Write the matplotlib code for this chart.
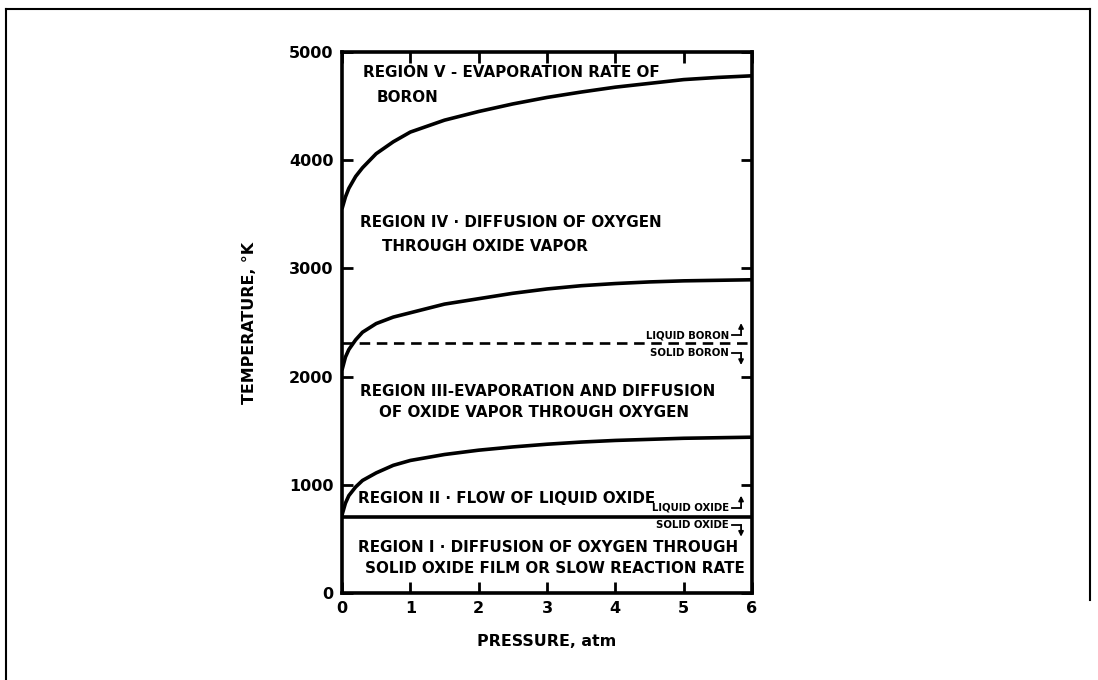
"""
Boron combustion regimes: temperature vs pressure map,
redrawn from the scanned figure with matplotlib.
"""

import matplotlib
matplotlib.use("Agg")
import matplotlib.pyplot as plt
from matplotlib.lines import Line2D

# curve readings (pressure in atm, temperature in K)
pressure = [0, 0.05, 0.1, 0.2, 0.3, 0.5, 0.75, 1, 1.5, 2, 2.5, 3, 3.5, 4, 4.5, 5, 5.5, 6]
t_region_v = [3550, 3660, 3740, 3850, 3930, 4060, 4170, 4260, 4370, 4450, 4520,
              4580, 4630, 4675, 4710, 4745, 4765, 4780]
t_region_iv = [2060, 2180, 2250, 2340, 2410, 2490, 2550, 2590, 2670, 2720, 2770,
               2810, 2840, 2860, 2875, 2885, 2890, 2895]
t_region_iii = [720, 830, 900, 980, 1040, 1110, 1180, 1225, 1280, 1320, 1350,
                1375, 1395, 1410, 1420, 1430, 1435, 1440]
t_boron_melt = 2310
t_oxide_melt = 705

x_ticks = [0, 1, 2, 3, 4, 5, 6]
y_ticks = [0, 1000, 2000, 3000, 4000, 5000]

region_labels = [
    (0.31, 4806, "REGION V - EVAPORATION RATE OF"),
    (0.51, 4584, "BORON"),
    (0.26, 3420, "REGION IV · DIFFUSION OF OXYGEN"),
    (0.58, 3198, "THROUGH OXIDE VAPOR"),
    (0.26, 1858, "REGION III-EVAPORATION AND DIFFUSION"),
    (0.54, 1664, "OF OXIDE VAPOR THROUGH OXYGEN"),
    (0.23, 878, "REGION II · FLOW OF LIQUID OXIDE"),
    (0.23, 425, "REGION I · DIFFUSION OF OXYGEN THROUGH"),
    (0.34, 231, "SOLID OXIDE FILM OR SLOW REACTION RATE"),
]

FONT = "DejaVu Sans"


def phase_bracket(ax, y_text, y_tip, label):
    # small label, a dash out to the right and an arrow pointing into the phase
    ax.text(5.66, y_text, label, ha="right", va="center", fontsize=7.3,
            fontweight="bold", family=FONT)
    ax.plot([5.70, 5.84], [y_text, y_text], color="black", lw=1.3)
    ax.annotate("", xy=(5.84, y_tip), xytext=(5.84, y_text),
                arrowprops=dict(arrowstyle="-|>", color="black", lw=1.3,
                                mutation_scale=7, shrinkA=0, shrinkB=0))


def main():
    fig = plt.figure(figsize=(10.98, 6.80), dpi=100)
    ax = fig.add_axes([342 / 1098, 1 - 593 / 680, 410 / 1098, 541 / 680])

    for t in (t_region_v, t_region_iv, t_region_iii):
        ax.plot(pressure, t, color="black", lw=2.6, solid_capstyle="butt")
    ax.axhline(t_boron_melt, color="black", lw=1.9, dashes=(4, 2.5))
    ax.axhline(t_oxide_melt, color="black", lw=2.6)

    for x, y, s in region_labels:
        ax.text(x, y, s, ha="left", va="center", fontsize=10.9,
                fontweight="bold", family=FONT)

    phase_bracket(ax, 2384, 2495, "LIQUID BORON")
    phase_bracket(ax, 2218, 2107, "SOLID BORON")
    phase_bracket(ax, 790, 900, "LIQUID OXIDE")
    phase_bracket(ax, 628, 520, "SOLID OXIDE")

    ax.set_xlim(0, 6)
    ax.set_ylim(0, 5000)
    ax.set_xticks(x_ticks)
    ax.set_yticks(y_ticks)
    ax.set_xticklabels([str(v) for v in x_ticks], fontsize=11.5,
                       fontweight="bold", family=FONT)
    ax.set_yticklabels([str(v) for v in y_ticks], fontsize=11.5,
                       fontweight="bold", family=FONT)
    ax.tick_params(direction="in", length=8, width=2, top=True, right=True,
                   pad=6)
    for sp in ax.spines.values():
        sp.set_linewidth(2.6)

    ax.set_xlabel("PRESSURE, atm", fontsize=11.4, fontweight="bold",
                  family=FONT, labelpad=13)
    ax.set_ylabel("TEMPERATURE, °K", fontsize=11.4, fontweight="bold",
                  family=FONT, labelpad=23)

    # scan frame around the whole figure
    fw, fh = 1098, 680
    fig.add_artist(Line2D([6 / fw, 6 / fw], [0, 1 - 9 / fh], color="black", lw=1.5))
    fig.add_artist(Line2D([6 / fw, 1090 / fw], [1 - 9 / fh, 1 - 9 / fh],
                          color="black", lw=1.5))
    fig.add_artist(Line2D([1090 / fw, 1090 / fw], [1 - 9 / fh, 1 - 600 / fh],
                          color="black", lw=1.5))

    fig.savefig("out.png", dpi=100)


if __name__ == "__main__":
    main()
